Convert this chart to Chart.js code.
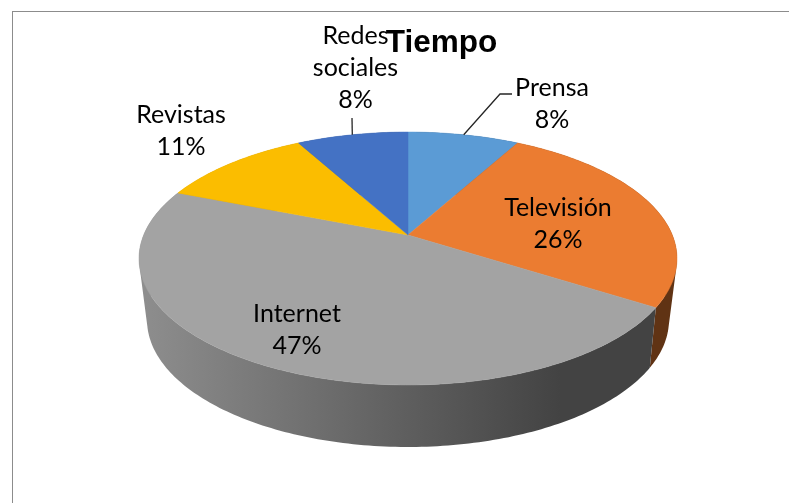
<!DOCTYPE html>
<html>
<head>
<meta charset="utf-8">
<title>Tiempo</title>
<script src="https://cdn.jsdelivr.net/npm/chart.js@4/dist/chart.umd.min.js"></script>
<style>
html, body { margin: 0; padding: 0; background: #fff; overflow: hidden; }
#frame { position: absolute; left: 12px; top: 11px; width: 777px; height: 492px; border-top: 1px solid #8c8c8c; border-left: 1px solid #8c8c8c; }
#chart1 { position: absolute; left: 0; top: 0; }
</style>
</head>
<body>
<div id="frame"></div>
<canvas id="chart1" width="789" height="503"></canvas>
<script>
var categories = ["Prensa", "Televisión", "Internet", "Revistas", "Redes sociales"];
var shares = [8, 26, 47, 11, 8];
var colors = ["#5b9bd5", "#eb7c31", "#a3a3a3", "#fbbd00", "#4472c4"];

// perspective of the two pie faces, fitted on the picture
var topFace = { cx: 408, cy: 235, a: 264.3, b: 122.1, k: 0.1858 };
var bottomFace = { cx: 408, cy: 294.6, a: 255.7, b: 121.9, k: 0.2 };

// label lines are centred on x, first line on y
var labelSpots = [
    { x: 552, y: 88, lines: ["Prensa"], elbow: [[500, 94], [512, 94]] },
    { x: 558, y: 208, lines: ["Televisión"] },
    { x: 297, y: 314, lines: ["Internet"] },
    { x: 181, y: 115, lines: ["Revistas"] },
    { x: 355.5, y: 36, lines: ["Redes", "sociales"], elbow: [[352, 118]] }
];

function project(face, angle, r) {
    var u = Math.cos(angle) * r, v = Math.sin(angle) * r;
    var d = 1 - face.k * v;
    return { x: face.cx + face.a * u / d, y: face.cy + face.b * v / d };
}

function shade(hex, f) {
    var n = parseInt(hex.slice(1), 16);
    return "rgb(" + Math.round((n >> 16) * f) + "," + Math.round(((n >> 8) & 255) * f) + "," + Math.round((n & 255) * f) + ")";
}

function rimPath(ctx, face, start, end) {
    var steps = Math.max(8, Math.ceil((end - start) * 60));
    for (var i = 0; i <= steps; i++) {
        var p = project(face, start + (end - start) * i / steps, 1);
        ctx.lineTo(p.x, p.y);
    }
}

// one quad of the wall, always wound the same way so the nonzero fill joins them
function addQuad(ctx, pts) {
    var area = 0;
    for (var i = 0; i < 4; i++) {
        var a = pts[i], b = pts[(i + 1) % 4];
        area += a.x * b.y - b.x * a.y;
    }
    if (area < 0) pts.reverse();
    ctx.moveTo(pts[0].x, pts[0].y);
    for (var j = 1; j < 4; j++) ctx.lineTo(pts[j].x, pts[j].y);
    ctx.closePath();
}

var pie3d = {
    id: "pie3d",
    beforeDatasetsDraw: function(chart) {
        var ctx = chart.ctx;
        var arcs = chart.getDatasetMeta(0).data;
        ctx.save();
        // outer wall first
        arcs.forEach(function(arc, i) {
            var g = ctx.createLinearGradient(140, 0, 560, 0);
            g.addColorStop(0, shade(colors[i], 0.87));
            g.addColorStop(1, shade(colors[i], 0.41));
            var span = arc.endAngle - arc.startAngle;
            var steps = Math.ceil(span * 60);
            ctx.beginPath();
            for (var s = 0; s < steps; s++) {
                var a0 = arc.startAngle + span * s / steps;
                var a1 = arc.startAngle + span * (s + 1) / steps;
                addQuad(ctx, [project(topFace, a0, 1), project(topFace, a1, 1), project(bottomFace, a1, 1), project(bottomFace, a0, 1)]);
            }
            ctx.fillStyle = g;
            ctx.fill();
        });
        // top face
        arcs.forEach(function(arc, i) {
            ctx.beginPath();
            ctx.moveTo(topFace.cx, topFace.cy);
            rimPath(ctx, topFace, arc.startAngle, arc.endAngle);
            ctx.closePath();
            ctx.fillStyle = colors[i];
            ctx.strokeStyle = colors[i];
            ctx.lineWidth = 0.5;
            ctx.fill();
            ctx.stroke();
        });
        ctx.restore();
        return false;
    },
    afterDraw: function(chart) {
        var ctx = chart.ctx;
        var arcs = chart.getDatasetMeta(0).data;
        var lineGap = 32;
        ctx.save();
        ctx.font = "25px Lato";
        ctx.fillStyle = "#000";
        ctx.textAlign = "center";
        ctx.textBaseline = "middle";
        labelSpots.forEach(function(spot, i) {
            spot.lines.concat(shares[i] + "%").forEach(function(text, j) {
                ctx.fillText(text, spot.x, spot.y + j * lineGap);
            });
            if (spot.elbow) {
                var arc = arcs[i];
                var p = project(topFace, (arc.startAngle + arc.endAngle) / 2, 1);
                ctx.beginPath();
                ctx.moveTo(p.x, p.y);
                spot.elbow.forEach(function(q) { ctx.lineTo(q[0], q[1]); });
                ctx.strokeStyle = "#262626";
                ctx.lineWidth = 1.3;
                ctx.stroke();
            }
        });
        ctx.restore();
    }
};

window.onload = function() {
    var ctx1 = document.getElementById("chart1").getContext("2d");
    window.theChart1 = new Chart(ctx1, {
        type: "pie",
        data: {
            labels: categories,
            datasets: [{
                data: shares,
                backgroundColor: colors,
                borderWidth: 0
            }]
        },
        options: {
            responsive: false,
            animation: false,
            layout: { padding: { left: 94, top: 25 } },
            plugins: {
                legend: { display: false },
                tooltip: { enabled: false },
                title: {
                    display: true,
                    text: "Tiempo",
                    color: "#000",
                    padding: 0,
                    font: { family: "'Liberation Sans'", size: 31.5, weight: "bold", lineHeight: 1.15 }
                }
            }
        },
        plugins: [pie3d]
    });
};
</script>
</body>
</html>
